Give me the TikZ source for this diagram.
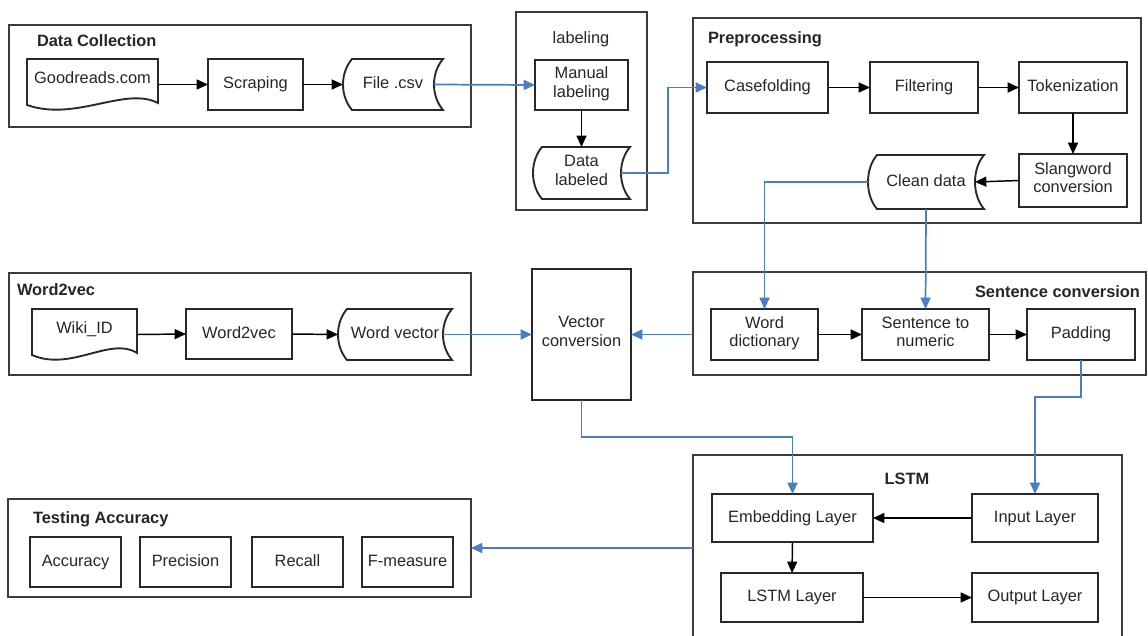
\documentclass[tikz,border=0pt]{standalone}
\usepackage{fontspec}
\setmainfont{Liberation Sans}
\usetikzlibrary{arrows.meta,calc}
\definecolor{lnblue}{RGB}{75,125,195}
\definecolor{frm}{RGB}{60,60,60}
\definecolor{bxc}{RGB}{40,40,40}
\newcommand{\mystrut}{\rule[-4.3pt]{0pt}{15pt}}
\newcommand{\tallstrut}{\rule[-4.3pt]{0pt}{18pt}}
\newcommand{\bnode}[7]{\node[#1, minimum width={(#5-#3)*0.75pt}, minimum height={(#6-#4)*0.75pt}] (#2) at ({(#3+#5)/2},{(#4+#6)/2}) {#7};}
\newcommand{\docshape}[1]{\draw[shapeline] ($(#1.south west)+(0,-5)$) -- (#1.north west) -- (#1.north east) -- ($(#1.south east)+(0,-7)$) .. controls ($(#1.south west)!0.75!(#1.south east)+(0,-24)$) and ($(#1.south west)!0.37!(#1.south east)+(0,12)$) .. ($(#1.south west)+(0,-5)$) -- cycle;}
\newcommand{\storshape}[1]{\draw[shapeline] ($(#1.north west)+(9,0)$) -- (#1.north east) .. controls ($(#1.north east)+(-12,14)$) and ($(#1.south east)+(-12,-14)$) .. (#1.south east) -- ($(#1.south west)+(9,0)$) .. controls ($(#1.south west)+(-3,-14)$) and ($(#1.north west)+(-3,14)$) .. cycle;}
\tikzset{
 every node/.style={font=\fontsize{12.3pt}{14pt}\selectfont, text=black!85, inner sep=0pt, outer sep=0pt, execute at begin node=\mystrut, execute at end node=\mystrut},
 bx/.style={draw=bxc, line width=1.4pt, align=center},
 bxtwo/.style={bx, execute at begin node=\tallstrut},
 shp/.style={align=center},
 shptwo/.style={shp, execute at begin node=\tallstrut},
 grpframe/.style={draw=frm, line width=1.5pt},
 ttl/.style={font=\fontsize{12.3pt}{14pt}\selectfont\bfseries},
 shapeline/.style={draw=bxc, line width=1.4pt},
 arr/.style={-{Triangle[length=8.5pt,width=7.5pt]}, line width=1.1pt, black},
 barr/.style={-{Triangle[length=8.5pt,width=7.5pt]}, line width=1.3pt, lnblue},
}
\begin{document}
\begin{tikzpicture}[x=0.75pt,y=-0.75pt]
\clip (0,0) rectangle (1148,635);
\fill[white] (0,0) rectangle (1148,635);
% Data collection
\bnode{grpframe}{dc}{9}{25}{471}{127}{}
\node[ttl, anchor=west] (dct) at (37,42.5) {Data Collection};
\bnode{shp}{gr}{27}{59}{158}{110}{\raisebox{5.7pt}{Goodreads.com}}
\bnode{bx}{scr}{208}{59}{303}{110}{Scraping}
\bnode{shp}{csv}{343}{59}{443}{110}{File .csv}
% labeling
\bnode{grpframe}{lab}{516}{12}{647}{210}{}
\node (labt) at (581,39) {labeling};
\bnode{bxtwo}{man}{535}{60}{628}{110}{Manual\\labeling}
\bnode{shptwo}{dl}{533}{147}{630}{199}{Data\\labeled}
% Preprocessing
\bnode{grpframe}{pre}{693}{18}{1141}{223}{}
\node[ttl,anchor=west] (pret) at (708,39.6) {Preprocessing};
\bnode{bx}{cf}{707}{62}{828}{113}{Casefolding}
\bnode{bx}{fil}{870}{62}{978}{113}{Filtering}
\bnode{bx}{tok}{1019}{62}{1127}{113}{Tokenization}
\bnode{bxtwo}{sl}{1019}{154}{1127}{207}{Slangword\\conversion}
\bnode{shp}{cd}{868}{155}{984}{209}{Clean data}
% Word2vec
\bnode{grpframe}{w2f}{9}{273}{471}{375}{}
\node[ttl,anchor=west] (w2t) at (17,291.6) {Word2vec};
\bnode{shp}{wi}{32}{309}{137}{360}{\raisebox{5.7pt}{Wiki\_ID}}
\bnode{bx}{w2v}{186}{309}{292}{359}{Word2vec}
\bnode{shp}{wv}{338}{309}{452}{360}{Word vector}
% Vector conversion
\bnode{bxtwo}{vc}{532}{269}{631}{400}{Vector\\conversion}
% Sentence conversion
\bnode{grpframe}{sc}{693}{272}{1146}{375}{}
\node[ttl,anchor=east] (sct) at (1140,293) {Sentence conversion};
\bnode{bxtwo}{wd}{711}{309}{818}{360}{Word\\dictionary}
\bnode{bxtwo}{sn}{862}{309}{989}{360}{Sentence to\\numeric}
\bnode{bx}{pad}{1027}{309}{1135}{360}{Padding}
% LSTM
\bnode{grpframe}{ls}{693}{455}{1122}{650}{}
\node[ttl] (lst) at (907,480) {LSTM};
\bnode{bx}{emb}{712}{494}{873}{542}{Embedding Layer}
\bnode{bx}{inp}{972}{494}{1098}{542}{Input Layer}
\bnode{bx}{lsl}{721}{573}{863}{622}{LSTM Layer}
\bnode{bx}{out}{972}{573}{1098}{622}{Output Layer}
% Testing
\bnode{grpframe}{ta}{8}{499}{471}{597}{}
\node[ttl,anchor=west] (tat) at (33,519.6) {Testing Accuracy};
\bnode{bx}{acc}{30}{537}{121}{587}{Accuracy}
\bnode{bx}{prec}{140}{537}{231}{587}{Precision}
\bnode{bx}{rec}{252}{537}{343}{587}{Recall}
\bnode{bx}{fm}{362}{537}{453}{587}{F-measure}
% special shapes
\docshape{gr}
\docshape{wi}
\storshape{csv}
\storshape{dl}
\storshape{cd}
\storshape{wv}
% black connectors
\draw[arr] (gr.east) -- (scr.west);
\draw[arr] (scr.east) -- (csv.west);
\draw[arr] (man.south) -- (dl.north);
\draw[arr] (cf.east) -- (fil.west);
\draw[arr] (fil.east) -- (tok.west);
\draw[arr] (tok.south) -- (sl.north);
\draw[arr] (sl.west) -- ($(cd.east)+(-9,0)$);
\draw[arr] (wi.east) -- (w2v.west);
\draw[arr] (w2v.east) -- (wv.west);
\draw[arr] (wd.east) -- (sn.west);
\draw[arr] (sn.east) -- (pad.west);
\draw[arr] (inp.west) -- (emb.east);
\draw[arr] (emb.south) -- (lsl.north);
\draw[arr] (lsl.east) -- (out.west);
% blue connectors
\draw[barr] ($(csv.east)+(-9,0)$) -- (man.west);
\draw[barr] ($(dl.east)+(-9,0)$) -- ++(47,0) |- (cf.west);
\draw[barr] (cd.west) -| (wd.north);
\draw[barr] (cd.south) -- (sn.north);
\draw[barr] ($(wv.east)+(-9,0)$) -- (vc.west);
\draw[barr] (sc.west |- vc.east) -- (vc.east);
\draw[barr] (pad.south) -- ++(0,37) -| (inp.north);
\draw[barr] (vc.south) -- ++(0,37) -| (emb.north);
\draw[barr] (ls.west |- ta.east) -- (ta.east);
\end{tikzpicture}
\end{document}
